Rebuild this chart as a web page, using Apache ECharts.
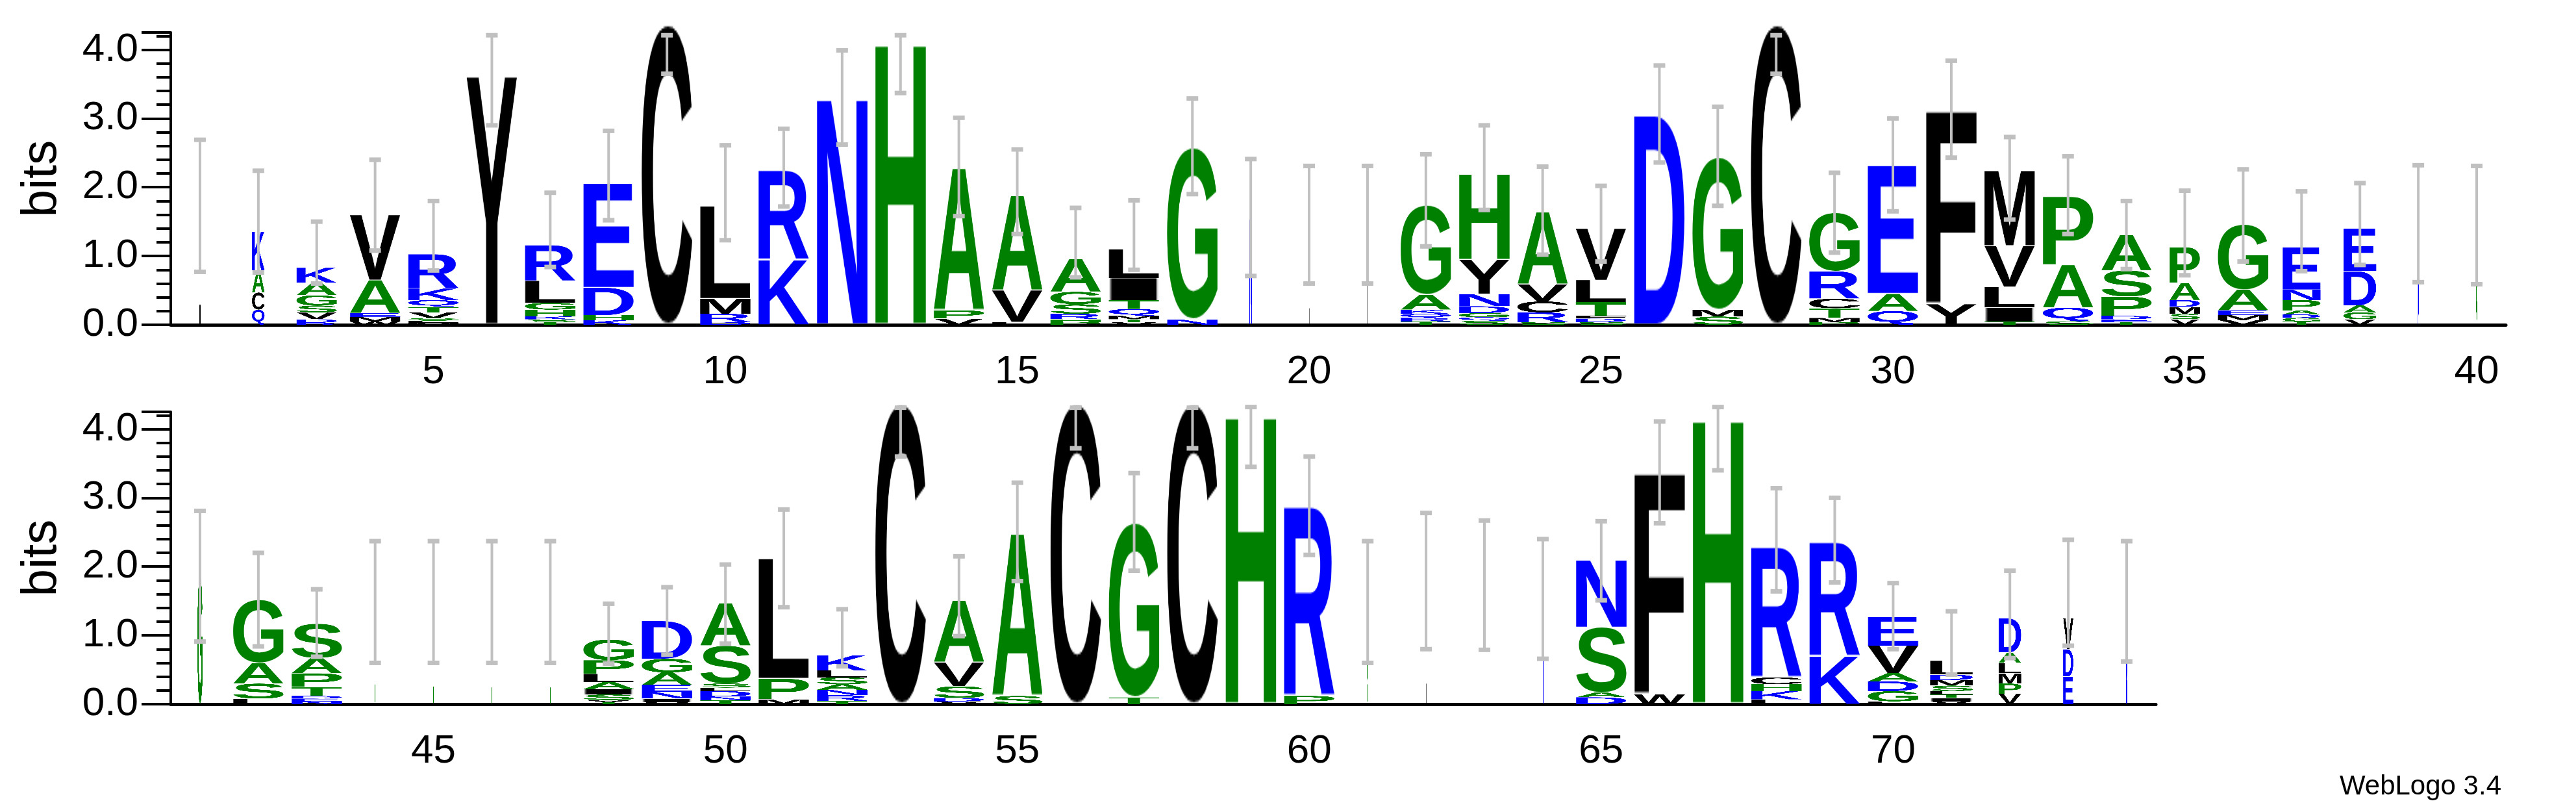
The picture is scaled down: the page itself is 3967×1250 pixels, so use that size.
<!DOCTYPE html>
<html>
<head>
<meta charset="utf-8">
<script src="https://cdn.jsdelivr.net/npm/echarts@6/dist/echarts.min.js"></script>
<style>
  html, body { margin: 0; padding: 0; background: #fff; }
  #chart { width: 3967px; height: 1250px; }
</style>
</head>
<body>
<div id="chart"></div>
<script>
// stacks, bottom -> top, "letter:bits"
var stacks1 = [
  "L:1.75",
  "Q:.22 C:.25 A:.32 K:.57",
  "R:.03 D:.05 V:.1 S:.1 G:.15 A:.18 K:.22",
  "W:.05 M:.06 E:.06 A:.48 V:.95",
  "M:.03 L:.03 S:.04 V:.08 T:.08 Q:.1 K:.17 R:.5",
  "Y:3.62",
  "T:.04 S:.04 K:.04 H:.1 G:.1 L:.32 R:.52",
  "K:.07 H:.07 D:.4 E:1.52",
  "C:4.37",
  "D:.04 R:.12 M:.22 L:1.35",
  "K:.95 R:1.3",
  "N:3.3",
  "H:4.1",
  "V:.09 P:.12 A:2.07",
  "L:.04 V:.46 A:1.38",
  "P:.04 H:.04 R:.08 S:.14 G:.18 A:.48",
  "V:.04 T:.04 M:.05 Q:.1 T:.13 I:.32 L:.42",
  "N:.08 G:2.5",
  "N:1.55",
  "L:1.45",
  "L:1.45",
  "T:.05 R:.05 Q:.06 K:.06 A:.22 G:1.3",
  "S:.06 Q:.05 G:.06 D:.1 N:.18 Y:.5 H:1.25",
  "S:.04 R:.14 C:.16 V:.25 A:1.05",
  "S:.04 D:.05 F:.04 T:.2 L:.32 V:.75",
  "D:3.05",
  "S:.12 M:.1 G:2.22",
  "C:4.37",
  "P:.04 M:.06 T:.14 C:.14 R:.4 G:.85",
  "Q:.2 A:.25 E:1.87",
  "Y:.3 F:2.82",
  "T:.05 I:.2 L:.3 V:.6 M:1.1",
  "S:.05 Q:.2 A:.62 P:1.0",
  "T:.04 E:.04 D:.05 P:.28 S:.38 A:.52",
  "V:.08 S:.08 M:.1 D:.1 A:.25 P:.52",
  "V:.07 M:.07 E:.07 A:.3 G:.95",
  "T:.05 G:.05 D:.05 A:.06 P:.15 N:.15 E:.62",
  "V:.08 G:.1 A:.1 D:.5 E:.62",
  "N:1.47",
  "G:1.44"
];
var widths1 = [.03, .25, .8, 1, 1, 1, 1, 1, 1, 1, 1, 1, 1, 1, 1, 1, 1, 1, .05, .012,
  .012, 1, 1, 1, 1, 1, 1, 1, 1, 1, 1, 1, 1, 1, .6, 1, .75, .65, .03, .02];
var errLo1 = [.77, .76, .6, 1.08, .79, 2.9, .84, 1.52, 3.65, 1.23, 1.72, 2.62, 3.37, 1.58, 1.32, .69, .8, 1.9, .71, .6,
  .6, 1.14, 1.67, 1.02, .92, 2.36, 1.73, 3.65, 1.05, 1.65, 2.43, 1.53, 1.32, .81, .72, .92, .78, .87, .62, .59];
var errHi1 = [2.69, 2.24, 1.5, 2.4, 1.8, 4.21, 1.92, 2.82, 4.21, 2.61, 2.85, 3.99, 4.21, 3.01, 2.55, 1.7, 1.81, 3.29, 2.41, 2.31,
  2.31, 2.48, 2.9, 2.3, 2.02, 3.77, 3.17, 4.21, 2.21, 3.0, 3.84, 2.73, 2.45, 1.8, 1.95, 2.26, 1.94, 2.06, 2.32, 2.31];

var stacks2 = [
  "G:1.86",
  "L:.08 S:.22 A:.3 G:.92",
  "N:.04 E:.04 D:.04 T:.13 P:.2 A:.22 S:.5",
  "G:1.47", "G:1.47", "G:1.47", "G:1.47",
  "T:.03 V:.03 S:.08 I:.08 A:.1 L:.12 P:.2 G:.3",
  "V:.03 I:.05 N:.1 E:.1 A:.18 G:.2 D:.55",
  "T:.06 N:.05 D:.08 L:.05 S:.06 S:.55 A:.62",
  "M:.07 P:.3 L:1.75",
  "T:.05 R:.08 N:.08 A:.08 S:.1 L:.1 K:.22",
  "C:4.37",
  "V:.04 D:.05 S:.17 V:.35 A:.9",
  "S:.12 A:2.36",
  "C:4.37",
  "T:.1 G:2.54",
  "C:4.37",
  "H:4.2",
  "P:.12 R:2.76",
  "G:1.5",
  "L:1.8",
  "G:1.7",
  "N:1.5",
  "D:.1 A:.07 S:.95 N:.98",
  "W:.14 F:3.23",
  "H:4.15",
  "L:.07 K:.12 H:.1 C:.1 R:1.9",
  "K:.7 R:1.66",
  "L:.04 G:.15 D:.14 A:.12 V:.4 E:.42",
  "V:.04 I:.05 T:.05 L:.05 S:.08 M:.08 D:.08 L:.2",
  "V:.15 P:.15 M:.15 L:.15 A:.15 D:.5",
  "E:.4 D:.4 V:.45",
  "N:1.5"
];
var widths2 = [.1, 1, 1, .02, .02, .02, .02, 1, 1, 1, 1, 1, 1, 1, 1, 1, 1, 1, 1, 1,
  .02, .012, .012, .02, 1, 1, 1, 1, 1, 1, .85, .45, .2, .02];
var errLo2 = [.91, .84, .69, .6, .6, .6, .6, .59, .72, .88, 1.41, .55, 3.6, .99, 1.79, 3.72, 1.94, 3.72, 3.45, 2.17,
  .6, .8, .79, .66, 1.51, 2.63, 3.4, 1.64, 1.77, .8, .43, .67, .85, .62];
var errHi2 = [2.81, 2.2, 1.67, 2.37, 2.37, 2.37, 2.37, 1.46, 1.7, 2.03, 2.83, 1.38, 4.31, 2.15, 3.22, 4.31, 3.36, 4.31, 4.32, 3.6,
  2.37, 2.78, 2.67, 2.4, 2.66, 4.11, 4.32, 3.14, 3.0, 1.76, 1.35, 1.94, 2.39, 2.37];

var pos1 = [], pos2 = [];
for (var i = 1; i <= 40; i++) pos1.push(String(i));
for (var i = 41; i <= 74; i++) pos2.push(String(i));
var yTicks = [0, 1, 2, 3, 4];

var colors = { K: "#0000ff", R: "#0000ff", N: "#0000ff", D: "#0000ff", E: "#0000ff", Q: "#0000ff",
  A: "#008000", G: "#008000", H: "#008000", S: "#008000", T: "#008000", P: "#008000" };
var LOGO_FONT = 'bold 200px "Liberation Sans", Arial, sans-serif';
var NUM_FONT = '"Liberation Sans Narrow", "Liberation Sans", Arial, sans-serif';

//裁好的字母图
var glyphCache = {};
function glyph(ch) {
  if (glyphCache[ch]) return glyphCache[ch];
  var c = document.createElement("canvas");
  var ctx = c.getContext("2d");
  ctx.font = LOGO_FONT;
  var m = ctx.measureText(ch);
  var w = Math.ceil(m.actualBoundingBoxLeft + m.actualBoundingBoxRight) + 2;
  var h = Math.ceil(m.actualBoundingBoxAscent + m.actualBoundingBoxDescent) + 2;
  c.width = w; c.height = h;
  ctx.font = LOGO_FONT;
  ctx.fillStyle = colors[ch] || "#000000";
  ctx.fillText(ch, m.actualBoundingBoxLeft + 1, m.actualBoundingBoxAscent + 1);
  glyphCache[ch] = c;
  return c;
}

function letterData(stacks, widths) {
  var out = [];
  for (var i = 0; i < stacks.length; i++) {
    var y = 0;
    var parts = stacks[i].split(" ");
    for (var j = 0; j < parts.length; j++) {
      var p = parts[j].split(":");
      var hgt = parseFloat(p[1]);
      out.push({ value: [i, y, y + hgt, widths[i]], ch: p[0] });
      y += hgt;
    }
  }
  return out;
}

function errData(lo, hi) {
  var out = [];
  for (var i = 0; i < lo.length; i++) out.push([i, lo[i], hi[i]]);
  return out;
}

function letterSeries(idx, data) {
  return {
    type: "custom", xAxisIndex: idx * 2, yAxisIndex: idx, z: 2,
    encode: { x: 0, y: [1, 2] },
    data: data,
    renderItem: function (params, api) {
      var d = data[params.dataIndex];
      var band = api.size([1, 0])[0];
      var p0 = api.coord([api.value(0), api.value(1)]);
      var p1 = api.coord([api.value(0), api.value(2)]);
      var w = band * 0.88 * api.value(3);
      return {
        type: "image",
        style: { image: glyph(d.ch), x: p0[0] - w / 2, y: p1[1], width: w, height: Math.max(p0[1] - p1[1], 0.5) }
      };
    }
  };
}

function errSeries(idx, data) {
  return {
    type: "custom", xAxisIndex: idx * 2, yAxisIndex: idx, z: 3,
    encode: { x: 0, y: [1, 2] },
    data: data,
    renderItem: function (params, api) {
      var a = api.coord([api.value(0), api.value(1)]);
      var b = api.coord([api.value(0), api.value(2)]);
      var grey = "#c0c0c0";
      return {
        type: "group",
        children: [
          { type: "line", shape: { x1: a[0], y1: a[1], x2: b[0], y2: b[1] }, style: { stroke: grey, lineWidth: 4 } },
          { type: "rect", shape: { x: a[0] - 9, y: a[1] - 3.5, width: 18, height: 7 }, style: { fill: grey } },
          { type: "rect", shape: { x: b[0] - 9, y: b[1] - 3.5, width: 18, height: 7 }, style: { fill: grey } }
        ]
      };
    }
  };
}

function xAxes(grid, cats) {
  return [{
    type: "category", gridIndex: grid, data: cats, boundaryGap: true,
    axisLine: { lineStyle: { color: "#000", width: 5 } },
    axisTick: { alignWithLabel: true, interval: 0, length: 12, lineStyle: { color: "#000", width: 4 } },
    axisLabel: {
      interval: function (i, v) { return Number(v) % 5 === 0; },
      margin: 42, fontSize: 62, color: "#000", fontFamily: NUM_FONT
    }
  }, {
    type: "category", gridIndex: grid, data: cats, boundaryGap: true,
    axisLine: { show: false },
    axisTick: { alignWithLabel: true, interval: function (i, v) { return Number(v) % 5 === 0; }, length: 24, lineStyle: { color: "#000", width: 4 } },
    axisLabel: { show: false }
  }];
}

function yAxis(grid) {
  return {
    type: "value", gridIndex: grid, min: 0, max: 4.25, interval: 1,
    name: "bits", nameLocation: "middle", nameGap: 160,
    nameTextStyle: { fontSize: 76, color: "#000", fontFamily: '"Liberation Sans", Arial, sans-serif' },
    axisLine: { show: true, lineStyle: { color: "#000", width: 4 } },
    axisTick: { show: true, length: 45, lineStyle: { color: "#000", width: 4 } },
    minorTick: { show: true, splitNumber: 5, length: 22, lineStyle: { color: "#000", width: 4 } },
    splitLine: { show: false },
    axisLabel: {
      margin: 50, fontSize: 62, color: "#000", fontFamily: NUM_FONT,
      formatter: function (v) { return yTicks.indexOf(v) >= 0 ? v.toFixed(1) : ""; }
    }
  };
}

var chart = echarts.init(document.getElementById("chart"), null, { renderer: "canvas" });
chart.setOption({
  animation: false,
  backgroundColor: "#fff",
  grid: [
    { left: 263, width: 3596, top: 50, height: 450 },
    { left: 263, width: 3057, top: 634, height: 450 }
  ],
  xAxis: xAxes(0, pos1).concat(xAxes(1, pos2)),
  yAxis: [yAxis(0), yAxis(1)],
  graphic: [{
    type: "text", right: 115, top: 1190,
    style: { text: "WebLogo 3.4", fontSize: 42, fill: "#000", fontFamily: NUM_FONT }
  }],
  series: [
    letterSeries(0, letterData(stacks1, widths1)),
    errSeries(0, errData(errLo1, errHi1)),
    letterSeries(1, letterData(stacks2, widths2)),
    errSeries(1, errData(errLo2, errHi2))
  ]
});
</script>
</body>
</html>
